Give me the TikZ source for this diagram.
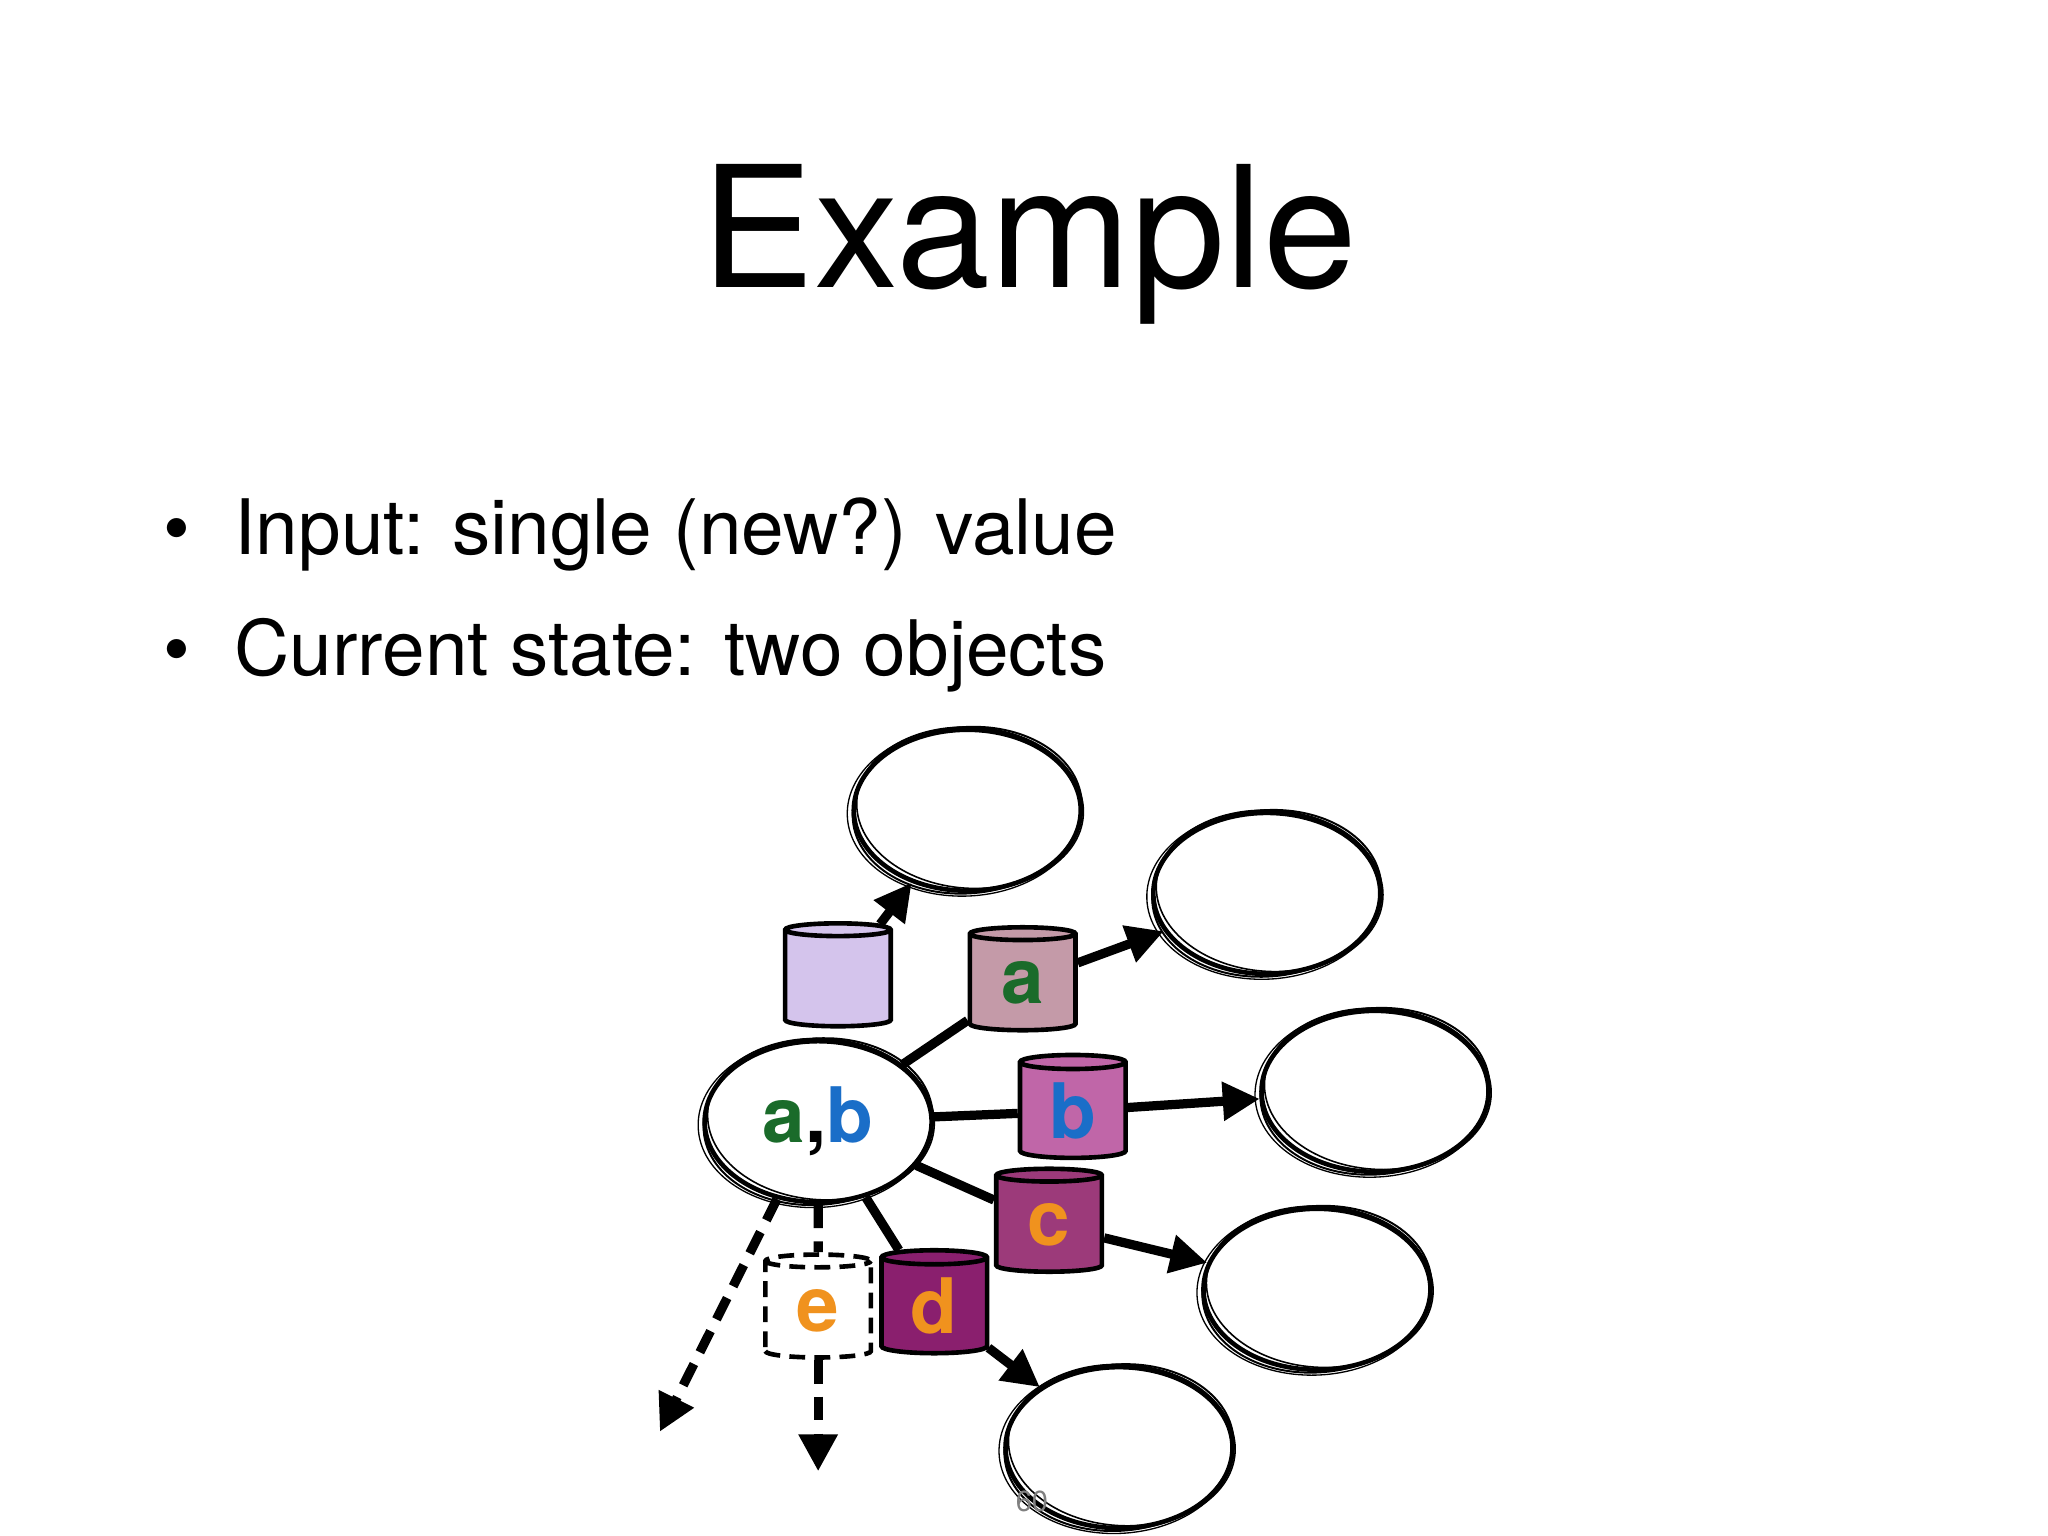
\documentclass[tikz,border=0pt]{standalone}
\usepackage{fontspec}
\setmainfont{TeX Gyre Heros}
\usetikzlibrary{shapes.geometric,arrows.meta}
\definecolor{cg}{HTML}{1A6B2A}
\definecolor{cb}{HTML}{1A6EC8}
\definecolor{co}{HTML}{F0921E}
\begin{document}
\begin{tikzpicture}[x=1pt,y=-1pt,
 sk/.style={draw,line width=3.5pt,ellipse,minimum width=172pt,minimum height=122pt},
 cyl/.style={cylinder,shape border rotate=90,aspect=0.3,draw,line width=3.5pt,minimum width=80pt,minimum height=78pt,font=\bfseries\fontsize{58}{58}\selectfont,inner sep=0pt},
 ar/.style={line width=7pt,-{Triangle[length=28pt,width=28pt]}},
 ln/.style={line width=7pt},
 dsh/.style={dash pattern=on 18pt off 10pt},
 lab/.style={font=\bfseries\fontsize{58}{58}\selectfont}]
\useasboundingbox (0,0) rectangle (1552,1164);
\node (title) at (780,185) {\fontsize{128}{128}\selectfont Example};
\node[anchor=base west] (b1) at (120,420) {\fontsize{58}{58}\selectfont •\hspace{34pt}Input: single (new?) value};
\node[anchor=base west] (b2) at (120,512) {\fontsize{58}{58}\selectfont •\hspace{34pt}Current state: two objects};
% ellipses
\node[sk] (e1) at (733,614) {};
\node[sk] (e2) at (960,677) {};
\node[sk] (e3) at (1042,827) {};
\node[sk] (e4) at (998,977) {};
\node[sk] (e5) at (848,1097) {};
\node[sk] (c) at (620,850) {};
\foreach \p in {e1,e2,e3,e4,e5,c}{
 \draw[line width=1.5pt,rotate around={5:(\p.center)}] (\p.center) ellipse (87pt and 63pt);
 \draw[line width=1.2pt,rotate around={-4:(\p.center)}] ([shift={(2,-2)}]\p.center) ellipse (86pt and 61pt);
 \draw[line width=1pt,rotate around={2:(\p.center)}] ([shift={(-2,1)}]\p.center) ellipse (89pt and 64pt);}
\node[lab] at (c.center) {\textcolor{cg}{a},\textcolor{cb}{b}};
% cylinders
\node[cyl,fill={rgb,255:red,212;green,196;blue,236}] (k0) at (635,742) {\phantom{a}};
\node[cyl,fill={rgb,255:red,196;green,154;blue,168},text=cg] (ka) at (775,745) {a};
\node[cyl,fill={rgb,255:red,192;green,102;blue,168},text=cb] (kb) at (813,842) {b};
\node[cyl,fill={rgb,255:red,156;green,58;blue,122},text=co] (kc) at (795,928) {c};
\node[cyl,fill={rgb,255:red,138;green,31;blue,110},text=co] (kd) at (708,990) {d};
\node[cyl,fill=white,dash pattern=on 12pt off 7pt,text=co] (ke) at (620,993) {e};
% arrows
\draw[ar] (k0) -- (e1);
\draw[ln] (c) -- (ka);
\draw[ar] (ka) -- (e2);
\draw[ln] (c) -- (kb);
\draw[ar] (kb) -- (e3);
\draw[ln] (c) -- (kc);
\draw[ar] (kc) -- (e4);
\draw[ln] (c) -- (kd);
\draw[ar] (kd) -- (e5);
\coordinate (f1) at (500,1085);
\coordinate (f2) at (620,1115);
\draw[ar,dsh] (c.-118) -- (f1);
\draw[ln,dsh] (c.south) -- (ke);
\draw[ar,dsh] (ke) -- (f2);
\node[text=gray] (pn) at (782,1138) {\fontsize{22}{22}\selectfont 60};
\end{tikzpicture}
\end{document}
